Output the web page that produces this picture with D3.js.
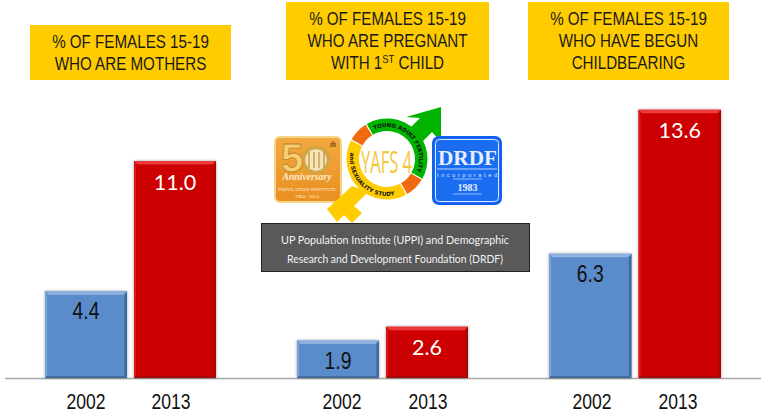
<!DOCTYPE html>
<html><head><meta charset="utf-8">
<script src="https://cdn.jsdelivr.net/npm/d3@7/dist/d3.min.js"></script>
<style>html,body{margin:0;padding:0;background:#fff}svg{display:block}text{font-family:"Liberation Sans",Arial,sans-serif}</style>
</head><body><svg id="c" width="761" height="415"></svg>
<script>
const years = ["2002","2013"];
const panelNames = ["mothers","pregnant","begun"];
const mothers = [4.4, 11.0];
const pregnant = [1.9, 2.6];
const begun = [6.3, 13.6];
const seriesValues = [mothers, pregnant, begun];
const valueLabels = [["4.4","11.0"],["1.9","2.6"],["6.3","13.6"]];
const titles = [
  ["% OF FEMALES 15-19","WHO ARE MOTHERS"],
  ["% OF FEMALES 15-19","WHO ARE PREGNANT","WITH 1|ST| CHILD"],
  ["% OF FEMALES 15-19","WHO HAVE BEGUN","CHILDBEARING"]
];
const noteLines = ["UP Population Institute (UPPI) and Demographic","Research and Development Foundation (DRDF)"];

const svg = d3.select("#c");
const defs = svg.append("defs");
function grad(id, stops, vertical){
  const g = defs.append("linearGradient").attr("id",id).attr("x1",0).attr("x2",vertical?0:1).attr("y1",0).attr("y2",vertical?1:0);
  stops.forEach(s=>g.append("stop").attr("offset",s[0]).attr("stop-color",s[1]));
}
grad("goldbg",[[0,"#f2a93f"],[1,"#e98f22"]],true);
const sh = defs.append("filter").attr("id","sh").attr("x","-10%").attr("y","-10%").attr("width","120%").attr("height","115%");
sh.append("feDropShadow").attr("dx",0).attr("dy",0).attr("stdDeviation",1.6).attr("flood-color","#000").attr("flood-opacity",0.4);

function narrow(sel, f){
  sel.each(function(){
    const L = this.getComputedTextLength();
    d3.select(this).attr("textLength",L*f).attr("lengthAdjust","spacingAndGlyphs");
  });
  return sel;
}

const y = d3.scaleLinear().domain([0,14]).range([378,378-14*19.72]);
const outer = d3.scaleOrdinal().domain(panelNames).range([[45,216],[297,468],[549,721]]);
const titleBox = [[30,25,201,55],[286,2,203,78],[528,2,201,78]];
const yearCentres = [[86,171],[342,428],[592,678]];

svg.append("line").attr("x1",5).attr("x2",761).attr("y1",378.5).attr("y2",378.5).attr("stroke","#a6a6a6").attr("stroke-width",1.3);

panelNames.forEach((name,i)=>{
  const [a,b] = outer(name);
  const x = d3.scaleBand().domain(years).range([a,b]).paddingInner(0.08).paddingOuter(0);
  const g = svg.append("g");
  const data = seriesValues[i].map((v,j)=>({v,yr:years[j],lab:valueLabels[i][j],j}));
  g.selectAll("rect.bar").data(data).join("rect").attr("class","bar")
    .attr("x",d=>x(d.yr)).attr("width",x.bandwidth())
    .attr("y",d=>y(d.v)).attr("height",d=>y(0)-y(d.v))
    .attr("fill",d=>d.j===0?"#5a8bca":"#cc0000").attr("filter","url(#sh)");
  const bev = 3.5, side = 2.5;
  g.selectAll("path.top").data(data).join("path").attr("class","top")
    .attr("d",d=>{const l=x(d.yr),r=l+x.bandwidth(),t=y(d.v);return `M${l},${t}L${r},${t}L${r-bev},${t+bev}L${l+bev},${t+bev}Z`;})
    .attr("fill",d=>d.j===0?"#8db2e0":"#ee3a3a");
  g.selectAll("path.right").data(data).join("path").attr("class","right")
    .attr("d",d=>{const r=x(d.yr)+x.bandwidth(),t=y(d.v),b=y(0);return `M${r},${t}L${r},${b}L${r-side},${b-side}L${r-side},${t+bev}Z`;})
    .attr("fill",d=>d.j===0?"#3f6a9f":"#a80808");
  g.selectAll("path.left").data(data).join("path").attr("class","left")
    .attr("d",d=>{const l=x(d.yr),t=y(d.v),b=y(0);return `M${l},${t}L${l},${b}L${l+2},${b-2}L${l+2},${t+bev}Z`;})
    .attr("fill",d=>d.j===0?"#7ba3d6":"#d81a1a");
  g.selectAll("path.bot").data(data).join("path").attr("class","bot")
    .attr("d",d=>{const l=x(d.yr),r=l+x.bandwidth(),b=y(0);return `M${l},${b}L${r},${b}L${r-side},${b-2}L${l+2},${b-2}Z`;})
    .attr("fill",d=>d.j===0?"#406c9f":"#a80808");

  const vals = g.selectAll("text.val").data(data).join("text").attr("class","val")
    .attr("x",d=>x(d.yr)+x.bandwidth()/2).attr("y",d=>y(d.v)+(d.j===0?28:28.5))
    .attr("text-anchor","middle").attr("font-size",d=>d.j===0?23:21.5)
    .style("font-family",d=>d.j===0?"'Liberation Sans'":"Lato")
    .attr("fill",d=>d.j===0?"#111":"#fff").text(d=>d.lab);
  narrow(vals.filter(d=>d.j===0),0.84);

  const yrs = g.selectAll("text.yr").data(data).join("text").attr("class","yr")
    .attr("x",d=>yearCentres[i][d.j]).attr("y",409)
    .attr("text-anchor","middle").attr("font-size",21.4).attr("fill","#111").text(d=>d.yr);
  narrow(yrs,0.82);

  const [bx,by,bw,bh] = titleBox[i];
  svg.append("rect").attr("x",bx).attr("y",by).attr("width",bw).attr("height",bh).attr("fill","#ffcc00");
  const t = titles[i];
  const first = by + bh/2 + 6 - (t.length-1)*11;
  t.forEach((ln,k)=>{
    const tx = svg.append("text").attr("x",bx+bw/2).attr("y",first+k*22).attr("text-anchor","middle")
      .attr("font-size",17.7).attr("fill","#1a1a1a");
    ln.split("|").forEach((p,q)=>{
      const s = tx.append("tspan").text(p);
      if(q===1) s.attr("font-size",11).attr("dy",-6);
      if(q===2) s.attr("dy",6);
    });
    narrow(tx,0.857);
  });
});

// central logos
const logos = svg.append("g");
// left logo
logos.append("rect").attr("x",275).attr("y",137).attr("width",66).attr("height",65).attr("rx",5).attr("fill","url(#goldbg)").attr("stroke","#f6d588").attr("stroke-width",2);
logos.append("circle").attr("cx",316).attr("cy",160).attr("r",12.5).attr("fill","#f5e3bc").attr("stroke","#d3a544").attr("stroke-width",3.5);
[309,314,319,324].forEach(gx=>logos.append("line").attr("x1",gx).attr("x2",gx).attr("y1",152).attr("y2",168).attr("stroke","#b8902f").attr("stroke-width",1.2));
logos.append("text").attr("x",292).attr("y",172).attr("text-anchor","middle").attr("font-size",40).attr("font-weight","bold").attr("fill","#f6cf70").attr("stroke","#b9862a").attr("stroke-width",0.8).text("5");
logos.append("text").attr("x",330).attr("y",147).attr("font-size",7.5).attr("font-weight","bold").attr("font-style","italic").style("font-family","Liberation Serif").attr("fill","#7a4c08").text("th");
logos.append("text").attr("x",307).attr("y",180).attr("text-anchor","middle").attr("font-size",10).attr("font-weight","bold").attr("font-style","italic").style("font-family","Liberation Serif").attr("fill","#fdeccb").attr("textLength",49).attr("lengthAdjust","spacingAndGlyphs").text("Anniversary");
logos.append("text").attr("x",307).attr("y",191).attr("text-anchor","middle").attr("font-size",5).style("font-family","Liberation Serif").attr("fill","#fff3dc").text("POPULATION INSTITUTE");
logos.append("text").attr("x",307).attr("y",198).attr("text-anchor","middle").attr("font-size",5).style("font-family","Liberation Serif").attr("fill","#fff3dc").text("1964 - 2014");

// male arrow and female cross, under the ring
logos.append("path").attr("d","M441,107 L406,117 L420,118 L400,138 L412,152 L432,132 L441,142 Z").attr("fill","#00b400");
logos.append("path").attr("d","M352,186 L338,199 L327,209 L337,222 L344,215 L352,223 L362,213 L354,206 L368,192 Z").attr("fill","#ffcc00");
// ring
const ring = logos.append("g").attr("transform","translate(387,159)");
ring.append("circle").attr("r",30).attr("fill","#fff");
const arc = d3.arc().innerRadius(28).outerRadius(40.5);
const deg = Math.PI/180;
[[-30,119,"#00b400"],[121,150,"#f26a10"],[152,297,"#ffcc00"],[299,328,"#f26a10"]].forEach(s=>{
  ring.append("path").attr("d",arc({startAngle:s[0]*deg,endAngle:s[1]*deg})).attr("fill",s[2]);
});
ring.append("path").attr("id","arcTop").attr("d","M -13 -29.2 A 32 32 0 0 1 29.5 12.5").attr("fill","none");
ring.append("path").attr("id","arcBot").attr("d","M -36.4 -6.4 A 37 37 0 0 0 7.7 36.2").attr("fill","none");
ring.append("text").attr("font-size",5.6).attr("font-weight","bold").style("font-family","DejaVu Sans").attr("fill","#111")
  .append("textPath").attr("href","#arcTop").attr("textLength",76).attr("lengthAdjust","spacing").text("YOUNG ADULT FERTILITY");
ring.append("text").attr("font-size",5.6).attr("font-weight","bold").style("font-family","DejaVu Sans").attr("fill","#111")
  .append("textPath").attr("href","#arcBot").attr("textLength",72).attr("lengthAdjust","spacing").text("and  SEXUALITY STUDY");
logos.append("text").attr("x",386.5).attr("y",173).attr("text-anchor","middle").attr("font-size",31).style("font-family","Open Sans").attr("fill","#f4c63a").attr("textLength",51).attr("lengthAdjust","spacingAndGlyphs").text("YAFS 4");

// DRDF logo
logos.append("rect").attr("x",433).attr("y",137).attr("width",68).attr("height",67).attr("rx",6).attr("fill","#1a6cf0").attr("stroke","#0f5ff5").attr("stroke-width",2);
logos.append("rect").attr("x",435.5).attr("y",139.5).attr("width",63).attr("height",62).attr("rx",4).attr("fill","none").attr("stroke","#dbe8ff").attr("stroke-width",1);
logos.append("text").attr("x",467.5).attr("y",165).attr("text-anchor","middle").style("font-family","Liberation Serif").attr("font-size",20).attr("font-weight","bold").attr("fill","#e6efff").attr("textLength",59).attr("lengthAdjust","spacingAndGlyphs").text("DRDF");
logos.append("line").attr("x1",437).attr("x2",497).attr("y1",169).attr("y2",169).attr("stroke","#e6efff").attr("stroke-width",.8);
logos.append("text").attr("x",467).attr("y",176.5).attr("text-anchor","middle").attr("font-size",5.6).attr("fill","#dfeaff").attr("textLength",60).attr("lengthAdjust","spacing").text("Incorporated");
logos.append("line").attr("x1",453).attr("x2",482).attr("y1",179).attr("y2",179).attr("stroke","#cfe0ff").attr("stroke-width",.7);
logos.append("text").attr("x",467.5).attr("y",191).attr("text-anchor","middle").style("font-family","Liberation Serif").attr("font-size",10).attr("font-weight","bold").attr("fill","#eaf1ff").text("1983");
logos.append("line").attr("x1",453).attr("x2",482).attr("y1",194).attr("y2",194).attr("stroke","#cfe0ff").attr("stroke-width",.7);

// note box
svg.append("rect").attr("x",261.5).attr("y",223.5).attr("width",268).attr("height",48).attr("fill","#595959").attr("stroke","#222").attr("stroke-width",1);
noteLines.forEach((l,i)=>svg.append("text").attr("x",395).attr("y",244+i*19).attr("text-anchor","middle")
  .style("font-family","Lato").attr("font-size",12).attr("fill","#f2f2f2").attr("textLength",i?216:228).attr("lengthAdjust","spacingAndGlyphs").text(l));
</script></body></html>
